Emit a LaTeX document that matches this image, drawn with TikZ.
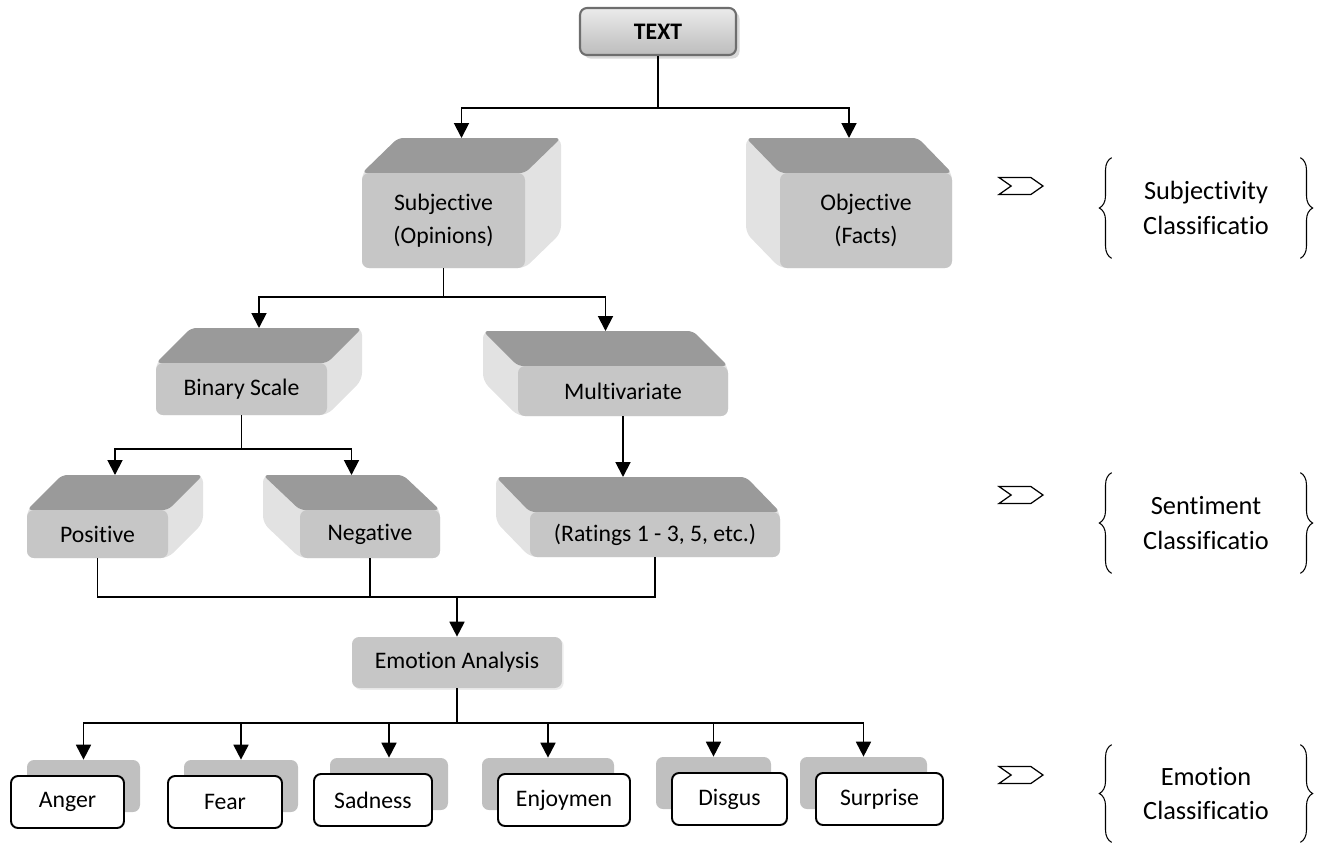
\documentclass[tikz,border=0pt]{standalone}
\usepackage{fontspec}
\setmainfont{Carlito}[Ligatures=NoCommon]
\usepackage{tikz}
\usetikzlibrary{arrows.meta,positioning,shadows,shapes.symbols,decorations.pathreplacing}
\definecolor{box-front}{HTML}{C6C6C6}
\definecolor{box-top}{HTML}{9A9A9A}
\definecolor{box-side}{HTML}{E2E2E2}
\definecolor{card-back}{HTML}{C0C0C0}
\definecolor{root-edge}{HTML}{6E6E6E}

\tikzset{
  rootbox/.style={draw=root-edge, line width=1.2pt, rounded corners=4pt, top color=white!92!black,
    bottom color=black!26, drop shadow={opacity=0.3, shadow xshift=2pt, shadow yshift=-2pt}, inner sep=0pt},
  frontface/.style={fill=box-front, rounded corners=4pt, inner sep=0pt, align=center},
  flatbox/.style={fill=box-front, rounded corners=4pt, inner sep=0pt,
    drop shadow={opacity=0.15, shadow xshift=1pt, shadow yshift=-1pt}},
  card/.style={draw, fill=white, line width=1.1pt, rounded corners=4pt, inner sep=0pt},
  backcard/.style={fill=card-back, rounded corners=4pt, inner sep=0pt},
  classlab/.style={inner sep=0pt, align=center, minimum width=3.76cm,
    font=\fontsize{15}{19.5}\selectfont},
  chev/.style={signal, signal to=east, signal from=west, draw, line width=0.7pt, inner sep=0pt,
    minimum width=0.88cm, minimum height=0.34cm, signal pointer angle=70},
  brace/.style={decorate, decoration={brace, amplitude=7pt}, line width=0.6pt},
  conn/.style={-{Triangle[width=8.5pt,length=8.5pt]}, line width=1.1pt},
  link/.style={line width=1.1pt}
}

% 3d slab: name, x1, y1, x2, y2, depth (+ right / - left), text
\newcommand{\slab}[7]{%
  \pgfmathsetmacro{\ax}{#6>0 ? #2 : #4}%
  \pgfmathsetmacro{\bx}{#6>0 ? #4 : #2}%
  \fill[box-side, rounded corners=4pt] (\ax,#3) -- (\ax+#6,#3-35) -- (\bx+#6,#3-35)
    -- (\bx+#6,#5-35) -- (\bx,#5) -- (\ax,#5) -- cycle;
  \fill[box-top, rounded corners=3pt] (\ax,#3) -- (\ax+#6,#3-35) -- (\bx+#6,#3-35) -- (\bx,#3) -- cycle;
  \node[frontface, minimum width={(#4-#2)*0.02cm}, minimum height={(#5-#3)*0.02cm}]
    (#1) at ({(#2+#4)/2},{(#3+#5)/2}) {#7};
  \coordinate (#1-in) at ({(#2+#4+#6)/2},#3-35);
}

% card with grey card behind: name, x1, y1, x2, y2, shift of back card, text
\newcommand{\feel}[7]{%
  \node[backcard, minimum width={(#4-#2)*0.02cm}, minimum height={(#5-#3)*0.02cm}]
    (#1-bk) at ({(#2+#4)/2+#6},{(#3+#5)/2-16}) {};
  \node[card, minimum width={(#4-#2)*0.02cm}, minimum height={(#5-#3)*0.02cm}]
    (#1) at ({(#2+#4)/2},{(#3+#5)/2}) {#7};
}

\begin{document}
\begin{tikzpicture}[x=0.02cm, y=-0.02cm, font=\fontsize{13.5}{18.5}\selectfont]
    \useasboundingbox (0,0) rectangle (1320,843);

    % tree
    \node[rootbox, minimum width=3.12cm, minimum height=0.94cm] (txt) at (658,31.5) {\textbf{TEXT}};
    \slab{subj}{362}{173}{525}{268}{36}{Subjective\\(Opinions)}
    \slab{obj}{780}{173}{952}{268}{-34}{Objective\\(Facts)}
    \slab{bin}{156}{363}{327}{415}{35}{Binary Scale}
    \slab{mult}{518}{366}{728}{416}{-35}{Multivariate}
    \slab{pos}{27}{510}{168}{558}{35}{Positive}
    \slab{neg}{300}{510}{440}{558}{-37}{Negative}
    \slab{rat}{530}{512}{780}{557}{-34}{(Ratings 1 - 3, 5, etc.)}
    \node[flatbox, minimum width=4.2cm, minimum height=1.02cm] (emo) at (457,662.5) {Emotion Analysis};

    \feel{anger}{11}{776}{124}{828}{16}{Anger}
    \feel{fear}{168}{776}{282}{828}{16}{Fear}
    \feel{sad}{314}{774}{432}{826}{16}{Sadness}
    \feel{joy}{498}{774}{630}{826}{-16}{Enjoymen}
    \feel{disg}{672}{773}{787}{825}{-16}{Disgus}
    \feel{surp}{816}{773}{943}{825}{-16}{Surprise}

    \draw[conn] (txt.south) -- ++(0,52) -| (subj-in);
    \draw[conn] (txt.south) -- ++(0,52) -| (obj-in);
    \draw[conn] (subj.south) -- ++(0,29) -| (bin-in);
    \draw[conn] (subj.south) -- ++(0,29) -| (mult-in);
    \draw[conn] (bin.south) -- ++(0,34) -| (pos-in);
    \draw[conn] (bin.south) -- ++(0,34) -| (neg-in);
    \draw[conn] (mult.south) -- (mult.south |- rat-in);
    \draw[link] (pos.south) -- ++(0,39) coordinate (bar) -| (rat.south);
    \draw[link] (neg.south) -- (neg.south |- bar);
    \draw[conn] (emo.north |- bar) -- (emo.north);
    \foreach \e in {anger,fear,sad,joy,disg,surp}
      \draw[conn] (emo.south) -- ++(0,35) -| (\e-bk.north);

    % classification labels
    \node[chev] (subj-sig) at (1021,186) {};
    \node[classlab, minimum height=2cm] (subj-cls) at (1206,208) {Subjectivity\\Classificatio};
    \node[chev] (sent-sig) at (1021,495) {};
    \node[classlab, minimum height=2cm] (sent-cls) at (1206,523) {Sentiment\\Classificatio};
    \node[chev] (emo-sig) at (1021,775) {};
    \node[classlab, minimum height=1.94cm] (emo-cls) at (1206,793.5) {Emotion\\Classificatio};
    \foreach \c in {subj-cls,sent-cls,emo-cls} {
      \draw[brace] (\c.south west) -- (\c.north west);
      \draw[brace] (\c.north east) -- (\c.south east);
    }
\end{tikzpicture}
\end{document}
